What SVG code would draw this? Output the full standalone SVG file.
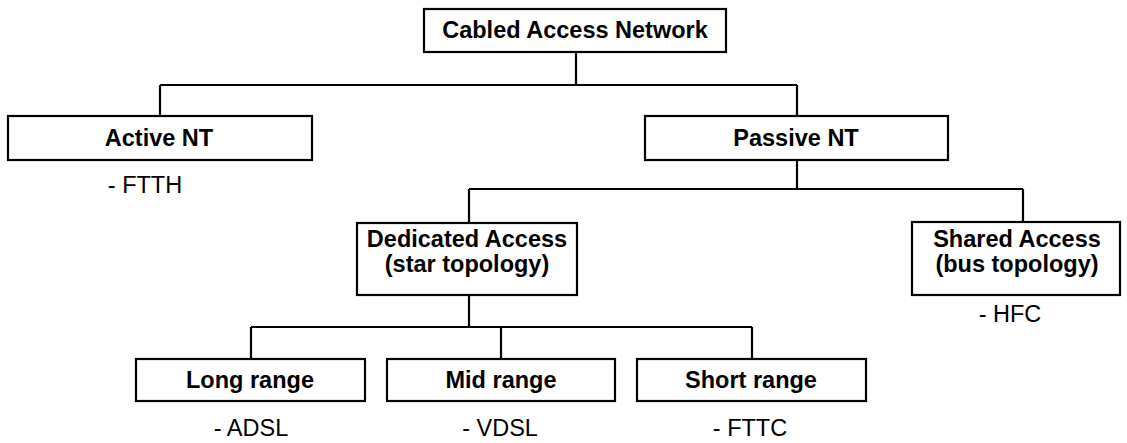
<svg xmlns="http://www.w3.org/2000/svg" width="1127" height="443" viewBox="0 0 1127 443">
<style>
.box{fill:#fff;stroke:#000;stroke-width:2.2}
.ln{fill:none;stroke:#000;stroke-width:2.2}
.b{font-family:"Liberation Sans",Arial,sans-serif;font-weight:bold;font-size:23.5px;text-anchor:middle;fill:#000}
.n{font-family:"Liberation Sans",Arial,sans-serif;font-size:23.5px;text-anchor:middle;fill:#000}
</style>
<rect width="1127" height="443" fill="#fff"/>
<g id="connectors">
<path class="ln" d="M576 52V85M160 85H797M160 85V116M797 85V116"/>
<path class="ln" d="M797 160V189M469 189H1023M469 189V223M1023 189V222"/>
<path class="ln" d="M469 295V327M251 327H752M251 327V359M501 327V359M752 327V359"/>
</g>
<g id="cabled">
<rect class="box" x="424" y="9" width="302" height="43"/>
<text class="b" x="575" y="38">Cabled Access Network</text>
</g>
<g id="active">
<rect class="box" x="8" y="116" width="304" height="44"/>
<text class="b" x="159" y="146">Active NT</text>
<text class="n" x="145" y="193">- FTTH</text>
</g>
<g id="passive">
<rect class="box" x="645" y="116" width="303" height="44"/>
<text class="b" x="796" y="146">Passive NT</text>
</g>
<g id="dedicated">
<rect class="box" x="357" y="223" width="220" height="72"/>
<text class="b" x="467" y="247">Dedicated Access</text>
<text class="b" x="467" y="272">(star topology)</text>
</g>
<g id="shared">
<rect class="box" x="912" y="222" width="208" height="73"/>
<text class="b" x="1017" y="247">Shared Access</text>
<text class="b" x="1017" y="272">(bus topology)</text>
<text class="n" x="1010" y="322">- HFC</text>
</g>
<g id="long">
<rect class="box" x="136" y="359" width="229" height="42"/>
<text class="b" x="250" y="388">Long range</text>
<text class="n" x="251" y="436">- ADSL</text>
</g>
<g id="mid">
<rect class="box" x="387" y="359" width="228" height="42"/>
<text class="b" x="501" y="388">Mid range</text>
<text class="n" x="500" y="436">- VDSL</text>
</g>
<g id="short">
<rect class="box" x="637" y="359" width="229" height="42"/>
<text class="b" x="751" y="388">Short range</text>
<text class="n" x="750" y="436">- FTTC</text>
</g>
</svg>
